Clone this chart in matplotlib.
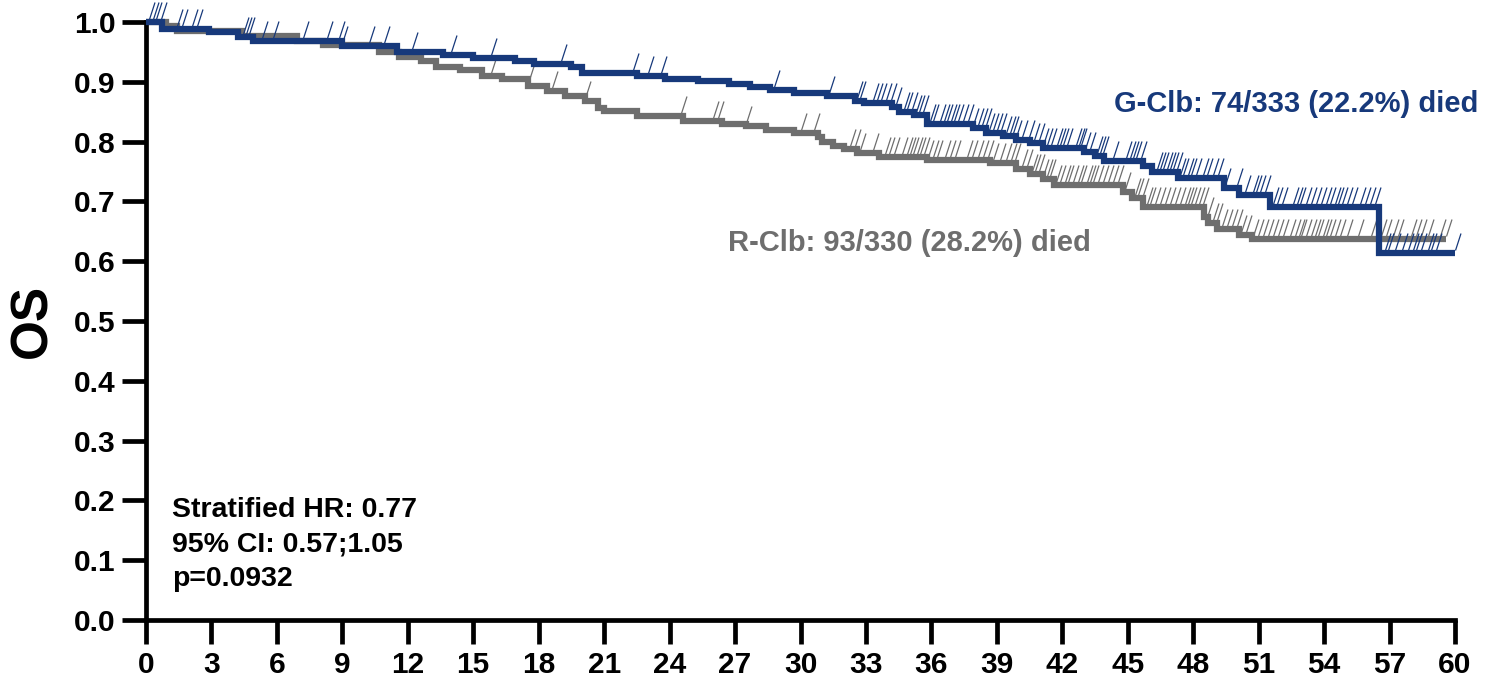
import numpy as np
import matplotlib
matplotlib.use("Agg")
import matplotlib.pyplot as plt
from matplotlib.path import Path
from matplotlib.markers import MarkerStyle

# ---------------- data ----------------
gclb_times = [0, 0.73, 2.9, 4.2, 4.9, 9.0, 11.5, 13.6, 15.0, 16.9, 17.8, 19.5, 20.0, 22.5, 23.8,
              25.3, 26.7, 27.7, 28.6, 29.7, 31.2, 32.5, 32.9, 34.2, 34.5, 35.2, 35.8, 37.9, 38.5,
              39.3, 39.9, 40.5, 41.1, 43.0, 43.5, 43.9, 45.7, 46.1, 47.3, 49.4, 50.1, 51.5, 56.5, 60.0]
gclb_surv = [1.0, 0.989, 0.983, 0.975, 0.968, 0.960, 0.950, 0.945, 0.940, 0.935, 0.930, 0.925, 0.915,
             0.910, 0.905, 0.901, 0.896, 0.891, 0.886, 0.881, 0.876, 0.868, 0.864, 0.858, 0.850,
             0.845, 0.829, 0.823, 0.814, 0.809, 0.803, 0.798, 0.789, 0.783, 0.776, 0.768, 0.759,
             0.749, 0.739, 0.722, 0.711, 0.691, 0.614, 0.614]

rclb_times = [0, 0.9, 1.4, 4.4, 6.9, 8.1, 10.7, 11.6, 12.6, 13.3, 14.4, 15.4, 16.3, 17.5, 18.4, 19.2,
              20.1, 20.7, 21.0, 22.5, 24.6, 26.4, 27.5, 28.4, 29.7, 30.8, 31.0, 31.5, 32.0, 32.6,
              33.6, 35.8, 38.7, 39.9, 40.5, 41.1, 41.6, 44.8, 45.2, 45.7, 48.5, 48.7, 49.1, 50.1,
              50.7, 59.6]
rclb_surv = [1.0, 0.993, 0.985, 0.976, 0.968, 0.962, 0.950, 0.942, 0.935, 0.925, 0.920, 0.910, 0.905,
             0.893, 0.885, 0.876, 0.868, 0.856, 0.851, 0.843, 0.834, 0.830, 0.826, 0.820, 0.815,
             0.808, 0.800, 0.792, 0.787, 0.781, 0.775, 0.770, 0.765, 0.755, 0.745, 0.737, 0.728,
             0.716, 0.705, 0.690, 0.674, 0.664, 0.654, 0.644, 0.637, 0.637]

gclb_censor = [0.15, 0.3, 0.45, 0.7, 1.4, 1.65, 2.1, 2.35, 4.45, 4.6, 4.7, 5.3, 5.8, 7.2, 8.3, 8.85,
               9.0, 10.2, 10.9, 12.2, 14.0, 15.8, 19.0, 22.3, 23.0, 23.6, 28.8, 31.3,
               32.57, 32.72, 33.33, 33.52, 33.71, 33.94, 34.17, 34.4, 34.74, 34.89, 35.09, 35.29,
               35.44, 35.62, 35.93, 36.08, 36.39, 36.57, 36.72, 36.88, 37.03, 37.23, 37.46, 37.69,
               37.92, 38.14, 38.34, 38.48, 38.65, 38.83, 38.99, 39.17, 39.4, 39.6, 39.75, 39.9,
               40.13, 40.48, 40.7, 40.94, 41.12, 41.28, 41.46, 41.74, 41.89, 42.04, 42.22,
               42.65, 42.77, 42.88, 43.03, 43.26, 43.57, 43.72, 43.87, 44.33, 44.94, 45.1, 45.25,
               45.4, 45.63, 46.32, 46.47, 46.62, 46.78, 46.93, 47.08, 47.24, 47.39, 47.54, 47.77,
               47.92, 48.15, 48.46, 48.61, 48.91, 49.14, 49.45, 49.99, 50.37, 50.75, 50.9, 51.05,
               51.28, 51.66, 51.82, 52.05, 52.58, 52.74, 52.89, 53.19, 53.42, 53.65, 53.88, 54.11,
               54.26, 54.49, 54.64, 54.8, 55.03, 55.26, 55.64, 55.87, 56.1, 56.33,
               56.78, 56.93, 57.24, 57.55, 57.85, 58.08, 58.23, 58.46, 58.77, 58.92, 59.15, 60.0]

rclb_censor = [15.8, 17.5, 18.6, 20.1, 24.5, 26.0, 26.2, 27.5, 30.0, 30.6,
               32.29, 32.49, 32.75, 33.33, 33.87, 34.05, 34.28, 34.63, 34.89, 35.01, 35.17, 35.32,
               35.47, 35.66, 35.85, 36.08, 36.24, 36.62, 36.85, 37.08, 37.61, 37.84, 38.14, 38.37,
               38.6, 38.83, 39.14, 39.44, 39.67, 39.82, 40.13, 40.36, 40.59, 40.74, 40.94, 41.12,
               41.28, 41.43, 41.7, 41.89, 42.12, 42.27,
               42.5, 42.73, 42.88, 43.11, 43.26, 43.41, 43.64, 43.87, 44.1, 44.33, 44.56, 44.87,
               45.33, 45.48, 45.68, 45.86, 46.04, 46.24, 46.47, 46.7, 46.93, 47.16, 47.39, 47.62,
               47.77, 47.92, 48.08, 48.27, 48.46, 48.69, 48.91, 49.07, 49.3, 49.53, 49.76, 49.99,
               50.21, 50.44, 50.75, 50.98, 51.21, 51.44, 51.66, 51.89, 52.12, 52.43, 52.66, 52.86,
               52.96, 53.19, 53.42, 53.57, 53.73, 53.96, 54.11, 54.26, 54.49, 54.72, 55.03, 55.56,
               56.17, 56.63, 56.86, 57.17, 57.39, 58.0, 58.23, 58.46, 58.77, 59.3, 59.6]

x_ticks = list(range(0, 61, 3))
y_ticks = [0.0, 0.1, 0.2, 0.3, 0.4, 0.5, 0.6, 0.7, 0.8, 0.9, 1.0]

label_g = "G-Clb: 74/333 (22.2%) died"
label_r = "R-Clb: 93/330 (28.2%) died"
stats_text = "Stratified HR: 0.77\n95% CI: 0.57;1.05\np=0.0932"
y_label = "OS"

# ---------------- style ----------------
BLUE = "#17397B"
GRAY = "#6E6E6E"
plt.rcParams['font.family'] = ['Liberation Sans', 'DejaVu Sans']
plt.rcParams['font.weight'] = 'bold'

fig = plt.figure(figsize=(14.88, 6.77), dpi=100)
ax = fig.add_axes([146 / 1488, 57 / 677, 1309 / 1488, 598 / 677])


def surv_at(times, surv, t):
    idx = np.searchsorted(np.asarray(times), np.asarray(t), side='right') - 1
    idx = np.clip(idx, 0, len(surv) - 1)
    return np.asarray(surv)[idx]


censor_marker = MarkerStyle(Path([(0, 3), (5.5, 20)], [Path.MOVETO, Path.LINETO]))

for times, surv, cens, col, z in [(rclb_times, rclb_surv, rclb_censor, GRAY, 2),
                                  (gclb_times, gclb_surv, gclb_censor, BLUE, 3)]:
    ax.step(times, surv, where='post', color=col, lw=4.5, solid_joinstyle='miter',
            solid_capstyle='butt', clip_on=False, zorder=z)
    ax.plot(cens, surv_at(times, surv, cens), linestyle='none', marker=censor_marker,
            ms=28.8, mfc='none', mec=col, mew=0.9, clip_on=False, zorder=z)

ax.set_xlim(0, 60)
ax.set_ylim(0, 1.0)
ax.set_xticks(x_ticks)
ax.set_xticklabels([str(v) for v in x_ticks])
ax.set_yticks(y_ticks)
ax.set_yticklabels([f"{v:.1f}" for v in y_ticks])

for s in ['top', 'right']:
    ax.spines[s].set_visible(False)
for s in ['left', 'bottom']:
    ax.spines[s].set_linewidth(3.4)
    ax.spines[s].set_color('black')
    ax.spines[s].set_capstyle('projecting')

ax.tick_params(axis='both', length=17, width=3.4, color='black', labelsize=21.5, pad=5)
for lab in ax.get_xticklabels() + ax.get_yticklabels():
    lab.set_fontweight('bold')

ax.set_ylabel(y_label, fontsize=37, fontweight='bold', labelpad=12)

ax.text(1.2, 0.205, stats_text, fontsize=20.5, fontweight='bold', va='top', ha='left',
        linespacing=1.42, color='black')

ax.text(61.05, 0.863, label_g, fontsize=21, fontweight='bold', color=BLUE, ha='right',
        va='center')
ax.text(26.67, 0.63, label_r, fontsize=21, fontweight='bold', color=GRAY, ha='left',
        va='center')

fig.savefig("out.png", dpi=100)
